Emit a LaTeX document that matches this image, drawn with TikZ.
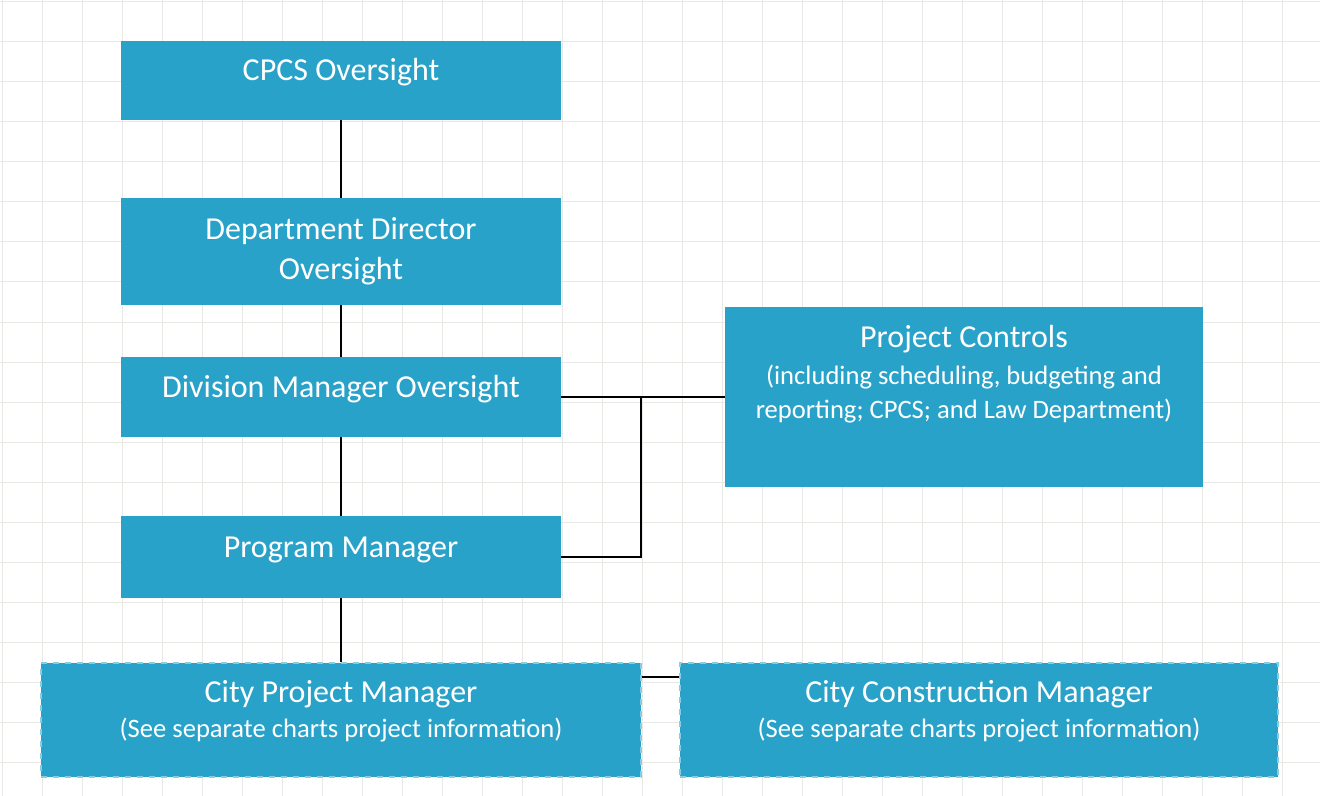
\documentclass[tikz,border=0pt]{standalone}
\usepackage{fontspec}
\setmainfont{Carlito}
\definecolor{boxblue}{RGB}{41,162,201}
\definecolor{gridgray}{RGB}{232,232,228}
\newcommand{\subfont}{\fontsize{13.3}{17}\selectfont}
\tikzset{
  orgbox/.style={rectangle, fill=boxblue, text=white, align=center, inner sep=0pt,
    font=\fontsize{16}{20}\selectfont},
  oneline/.style={orgbox, text height=11pt, text depth=11pt},
  dashbox/.style={orgbox, draw=boxblue!55!white, dashed, line width=0.6pt, text depth=11.25pt},
  link/.style={draw=black, line width=0.8pt}
}
\begin{document}
\begin{tikzpicture}[x=0.5pt,y=-0.5pt]
\useasboundingbox (0,0) rectangle (1320,796);
% grid paper
\foreach \gx in {2,42,...,1320} \draw[gridgray, line width=0.5pt] (\gx,0) -- (\gx,796);
\foreach \gy in {2,42,...,796} \draw[gridgray, line width=0.5pt] (0,\gy) -- (1320,\gy);
% chain of oversight
\node [oneline, minimum width=220pt, minimum height=39.5pt] (cpcs) at (341,80.5) {CPCS Oversight};
\node [orgbox, minimum width=220pt, minimum height=53.5pt] (dept) at (341,251.5) {Department Director\\Oversight};
\node [oneline, minimum width=220pt, minimum height=40pt] (div) at (341,397) {Division Manager Oversight};
\node [oneline, minimum width=220pt, minimum height=41pt] (prog) at (341,557) {Program Manager};
% controls
\node [orgbox, minimum width=239pt, minimum height=90pt] (ctrl) at (964,397) {};
\node [orgbox, fill=none, anchor=north] (ctrltext) at (964,325) {Project Controls\\[-1.75pt]
  {\subfont (including scheduling, budgeting and}\\[-3pt]
  {\subfont reporting; CPCS; and Law Department)}};
% city managers
\node [dashbox, minimum width=300pt, minimum height=57pt] (citypm) at (341,720) {City Project Manager\\[-2.75pt]
  {\subfont (See separate charts project information)}};
\node [dashbox, minimum width=299pt, minimum height=57pt] (citycm) at (979,720) {City Construction Manager\\[-2.75pt]
  {\subfont (See separate charts project information)}};
% connectors
\coordinate (jct) at (641,397);
\draw [link] (cpcs) -- (dept);
\draw [link] (dept) -- (div);
\draw [link] (div) -- (prog);
\draw [link] (prog) -- (citypm);
\draw [link] (div.east) -- (ctrl.west);
\draw [link] (prog.east) -| (jct);
\draw [link] ([yshift=21.5pt]citypm.east) -- ([yshift=21.5pt]citycm.west);
\end{tikzpicture}
\end{document}
